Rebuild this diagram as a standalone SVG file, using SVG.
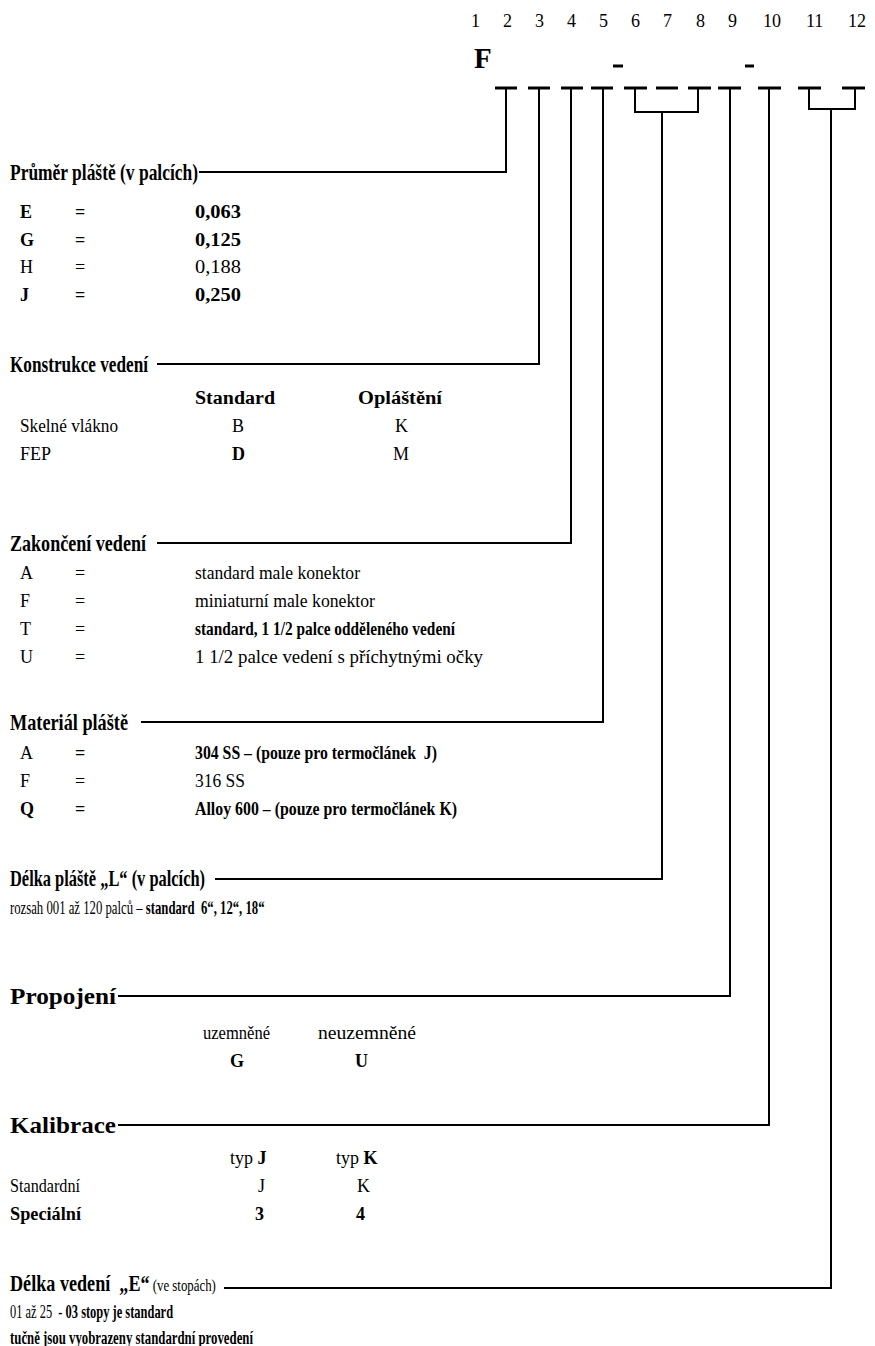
<svg xmlns="http://www.w3.org/2000/svg" width="875" height="1346" viewBox="0 0 875 1346">
<style>
text{font-family:"Liberation Serif","Times New Roman",serif;fill:#000}
.h{font-size:24px;font-weight:bold}
.t{font-size:18px}
.b{font-weight:bold}
.r{font-weight:normal}
.num{font-size:18px}
.ln{stroke:#000;stroke-width:2;fill:none}
.bar{stroke:#000;stroke-width:3;fill:none}
</style>
<rect width="875" height="1346" fill="#fff"/>
<g id="code">
<text class="num" x="471" y="27">1</text>
<text class="num" x="503" y="27">2</text>
<text class="num" x="535" y="27">3</text>
<text class="num" x="567" y="27">4</text>
<text class="num" x="599" y="27">5</text>
<text class="num" x="631" y="27">6</text>
<text class="num" x="663" y="27">7</text>
<text class="num" x="696" y="27">8</text>
<text class="num" x="728" y="27">9</text>
<text class="num" x="763" y="27">10</text>
<text class="num" x="806" y="27">11</text>
<text class="num" x="848" y="27">12</text>
<text x="474" y="68" style="font-size:29px;font-weight:bold">F</text>
<line class="bar" x1="613" y1="66" x2="623" y2="66"/>
<line class="bar" x1="745" y1="66" x2="754" y2="66"/>
<line class="bar" x1="495" y1="88" x2="517" y2="88"/>
<line class="bar" x1="528" y1="88" x2="550" y2="88"/>
<line class="bar" x1="561" y1="88" x2="583" y2="88"/>
<line class="bar" x1="591" y1="88" x2="613" y2="88"/>
<line class="bar" x1="624" y1="88" x2="647" y2="88"/>
<line class="bar" x1="656" y1="88" x2="678" y2="88"/>
<line class="bar" x1="688" y1="88" x2="711" y2="88"/>
<line class="bar" x1="718" y1="88" x2="741" y2="88"/>
<line class="bar" x1="758" y1="88" x2="781" y2="88"/>
<line class="bar" x1="798" y1="88" x2="821" y2="88"/>
<line class="bar" x1="842" y1="88" x2="865" y2="88"/>
</g>
<g id="connectors">
<polyline class="ln" points="199,172 506,172 506,88"/>
<polyline class="ln" points="157,364 539,364 539,88"/>
<polyline class="ln" points="157,543 571,543 571,88"/>
<polyline class="ln" points="141,722 603,722 603,88"/>
<polyline class="ln" points="635,88 635,112 698,112 698,88"/>
<polyline class="ln" points="215,879 662,879 662,112"/>
<polyline class="ln" points="118,996 730,996 730,88"/>
<polyline class="ln" points="118,1125 769,1125 769,88"/>
<polyline class="ln" points="809,88 809,109 855,109 855,88"/>
<polyline class="ln" points="224,1288 831,1288 831,109"/>
</g>
<g id="prumer">
<text class="h" x="10" y="180" textLength="188" lengthAdjust="spacingAndGlyphs">Průměr pláště (v palcích)</text>
<text class="t b" x="20" y="218">E</text><text class="t b" x="75" y="218">=</text><text class="t b" x="195" y="218" textLength="46" lengthAdjust="spacingAndGlyphs">0,063</text>
<text class="t b" x="20" y="246">G</text><text class="t b" x="75" y="246">=</text><text class="t b" x="195" y="246" textLength="46" lengthAdjust="spacingAndGlyphs">0,125</text>
<text class="t" x="20" y="273">H</text><text class="t" x="75" y="273">=</text><text class="t" x="195" y="273" textLength="46" lengthAdjust="spacingAndGlyphs">0,188</text>
<text class="t b" x="20" y="301">J</text><text class="t b" x="75" y="301">=</text><text class="t b" x="195" y="301" textLength="46" lengthAdjust="spacingAndGlyphs">0,250</text>
</g>
<g id="konstrukce">
<text class="h" x="10" y="372" textLength="138" lengthAdjust="spacingAndGlyphs">Konstrukce vedení</text>
<text class="t b" x="195" y="404" textLength="80" lengthAdjust="spacingAndGlyphs">Standard</text><text class="t b" x="358" y="404" textLength="84" lengthAdjust="spacingAndGlyphs">Opláštění</text>
<text class="t" x="20" y="432" textLength="98" lengthAdjust="spacingAndGlyphs">Skelné vlákno</text><text class="t" x="232" y="432">B</text><text class="t" x="395" y="432">K</text>
<text class="t" x="20" y="460">FEP</text><text class="t b" x="232" y="460">D</text><text class="t" x="393" y="460">M</text>
</g>
<g id="zakonceni">
<text class="h" x="10" y="551" textLength="136" lengthAdjust="spacingAndGlyphs">Zakončení vedení</text>
<text class="t" x="20" y="579">A</text><text class="t" x="75" y="579">=</text><text class="t" x="195" y="579" textLength="165" lengthAdjust="spacingAndGlyphs">standard male konektor</text>
<text class="t" x="20" y="607">F</text><text class="t" x="75" y="607">=</text><text class="t" x="195" y="607" textLength="180" lengthAdjust="spacingAndGlyphs">miniaturní male konektor</text>
<text class="t" x="20" y="635">T</text><text class="t" x="75" y="635">=</text><text class="t b" x="195" y="635" textLength="260" lengthAdjust="spacingAndGlyphs">standard, 1 1/2 palce odděleného vedení</text>
<text class="t" x="20" y="663">U</text><text class="t" x="75" y="663">=</text><text class="t" x="195" y="663" textLength="288" lengthAdjust="spacingAndGlyphs">1 1/2 palce vedení s příchytnými očky</text>
</g>
<g id="material">
<text class="h" x="10" y="730" textLength="118" lengthAdjust="spacingAndGlyphs">Materiál pláště</text>
<text class="t" x="20" y="759">A</text><text class="t b" x="75" y="759">=</text><text class="t b" x="195" y="759" textLength="242" lengthAdjust="spacingAndGlyphs">304 SS – (pouze pro termočlánek&#160; J)</text>
<text class="t" x="20" y="787">F</text><text class="t" x="75" y="787">=</text><text class="t" x="195" y="787" textLength="50" lengthAdjust="spacingAndGlyphs">316 SS</text>
<text class="t b" x="20" y="815">Q</text><text class="t b" x="75" y="815">=</text><text class="t b" x="195" y="815" textLength="262" lengthAdjust="spacingAndGlyphs">Alloy 600 – (pouze pro termočlánek K)</text>
</g>
<g id="delka-plaste">
<text class="h" x="10" y="886" textLength="195" lengthAdjust="spacingAndGlyphs">Délka pláště „L“ (v palcích)</text>
<text class="t" transform="matrix(0.708,0,0,1,10,914)">rozsah 001 až 120 palců – <tspan class="b">standard&#160; 6“, 12“, 18“</tspan></text>
</g>
<g id="propojeni">
<text class="h" x="10" y="1004" textLength="106" lengthAdjust="spacingAndGlyphs">Propojení</text>
<text class="t" x="203" y="1039" textLength="67" lengthAdjust="spacingAndGlyphs">uzemněné</text><text class="t" x="318" y="1039" textLength="98" lengthAdjust="spacingAndGlyphs">neuzemněné</text>
<text class="t b" x="230" y="1067">G</text><text class="t b" x="355" y="1067">U</text>
</g>
<g id="kalibrace">
<text class="h" x="10" y="1133" textLength="106" lengthAdjust="spacingAndGlyphs">Kalibrace</text>
<text class="t" x="230" y="1164">typ <tspan class="b">J</tspan></text><text class="t" x="336" y="1164">typ <tspan class="b">K</tspan></text>
<text class="t" x="10" y="1192" textLength="70" lengthAdjust="spacingAndGlyphs">Standardní</text><text class="t" x="258" y="1192">J</text><text class="t" x="357" y="1192">K</text>
<text class="t b" x="10" y="1220" textLength="71" lengthAdjust="spacingAndGlyphs">Speciální</text><text class="t b" x="255" y="1220">3</text><text class="t b" x="356" y="1220">4</text>
</g>
<g id="delka-vedeni">
<text class="h" transform="matrix(0.756,0,0,1,10,1291)">Délka vedení&#160; „E“<tspan class="r" style="font-size:17px"> (ve stopách)</tspan></text>
<text class="t" transform="matrix(0.691,0,0,1,10,1318)">01 až 25&#160; - <tspan class="b">03 stopy je standard</tspan></text>
<text class="t b" x="10" y="1344" textLength="243" lengthAdjust="spacingAndGlyphs">tučně jsou vyobrazeny standardní provedení</text>
</g>
</svg>
